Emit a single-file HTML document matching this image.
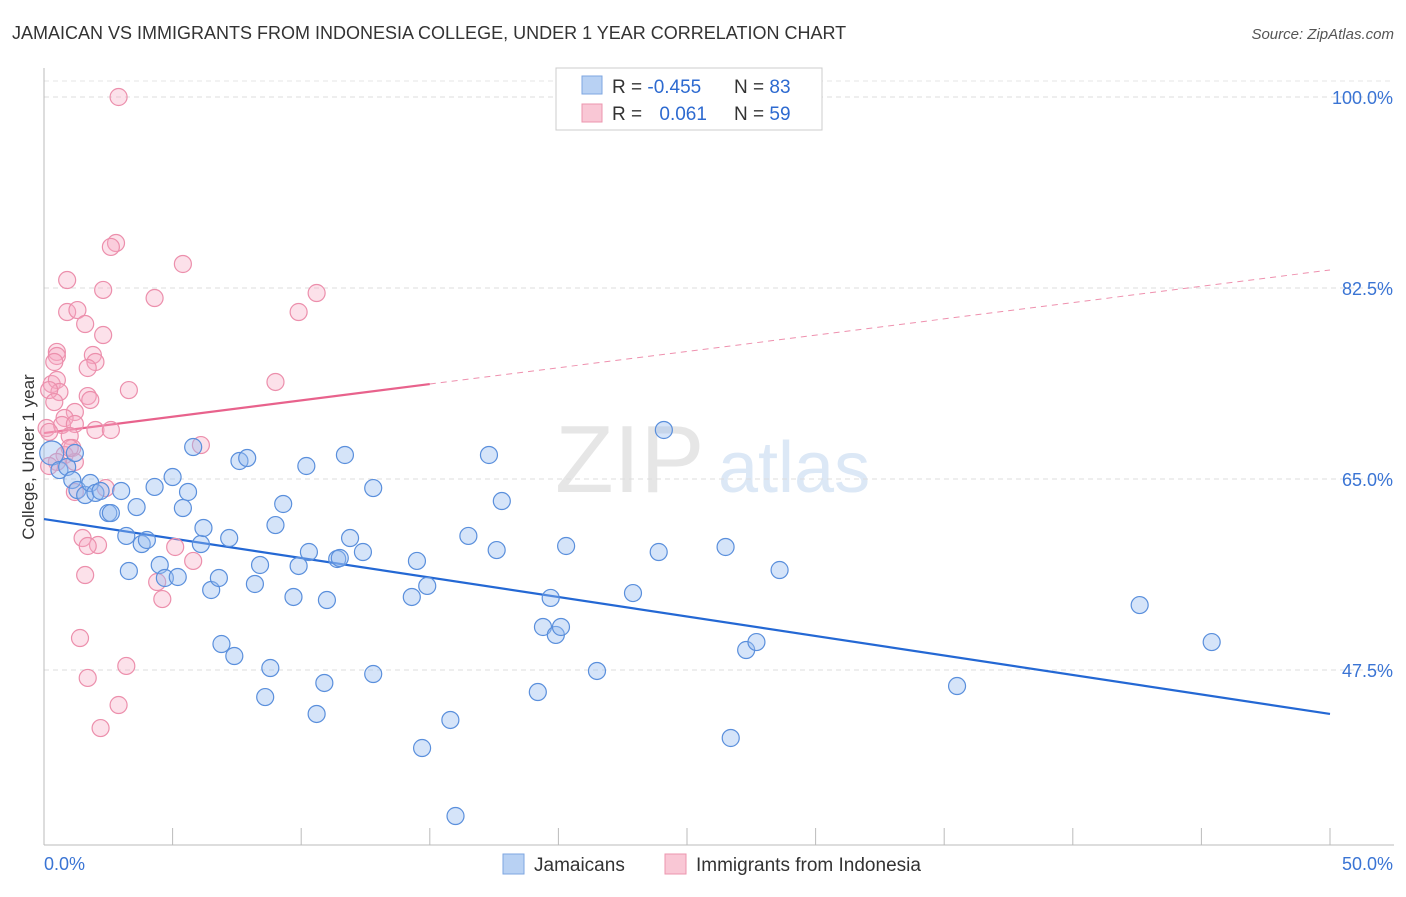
<!DOCTYPE html>
<html><head><meta charset="utf-8"><style>
body{margin:0;background:#fff;font-family:"Liberation Sans",sans-serif;}
svg text{font-family:"Liberation Sans",sans-serif;}
</style></head><body>
<svg id="chart" width="1406" height="892">
<text x="12" y="39" font-size="18" fill="#333">JAMAICAN VS IMMIGRANTS FROM INDONESIA COLLEGE, UNDER 1 YEAR CORRELATION CHART</text>
<text x="1394" y="39" font-size="15" fill="#555" text-anchor="end" font-style="italic">Source: ZipAtlas.com</text>
<text x="34" y="457" font-size="17" fill="#333" text-anchor="middle" transform="rotate(-90 34 457)">College, Under 1 year</text>
<text x="555" y="492" font-size="96" fill="#e6e6e6" font-family="Liberation Serif">ZIP</text>
<text x="718" y="492" font-size="72" fill="#dce8f6">atlas</text>
<g id="grid"></g><g id="axes"></g><g id="lines"></g><g id="pts"></g>
<g>
<rect x="556" y="68" width="266" height="62" fill="#fff" stroke="#ccc"/>
<rect x="582" y="76" width="20" height="18" fill="#b8d1f3" stroke="#7ea6e0"/>
<rect x="582" y="104" width="20" height="18" fill="#f9c7d5" stroke="#ec95ae"/>
<text x="612" y="93" font-size="19" fill="#333">R = <tspan fill="#2d6ad0">-0.455</tspan></text>
<text x="734" y="93" font-size="19" fill="#333">N = <tspan fill="#2d6ad0">83</tspan></text>
<text x="612" y="120" font-size="19" fill="#333">R = <tspan fill="#2d6ad0" dx="12">0.061</tspan></text>
<text x="734" y="120" font-size="19" fill="#333">N = <tspan fill="#2d6ad0">59</tspan></text>
</g>
<g>
<rect x="503" y="854" width="21" height="20" fill="#b8d1f3" stroke="#7ea6e0"/>
<text x="534" y="871" font-size="19" fill="#333">Jamaicans</text>
<rect x="665" y="854" width="21" height="20" fill="#f9c7d5" stroke="#ec95ae"/>
<text x="696" y="871" font-size="19" fill="#333">Immigrants from Indonesia</text>
</g>
</svg>
<script>
const yTicks=[100,82.5,65,47.5];
const yTickLabels=["100.0%","82.5%","65.0%","47.5%"];
const xTickLabels=["0.0%","50.0%"];
const blueX=[0.3,0.6,0.9,1.1,1.3,1.6,1.8,2.0,2.2,2.5,2.6,3.0,3.2,3.3,3.6,3.8,4.0,4.3,4.5,4.7,5.0,5.2,5.4,5.6,5.8,6.1,6.2,6.5,6.8,6.9,7.2,7.4,7.6,7.9,8.2,8.4,8.6,8.8,9.0,9.3,9.7,9.9,10.2,10.3,10.6,10.9,11.0,11.4,11.5,11.7,11.9,12.4,12.8,12.8,14.3,14.5,14.7,14.9,15.8,16.0,16.5,17.3,17.6,17.8,19.2,19.4,19.7,19.9,20.1,20.3,21.5,22.9,23.9,24.1,26.5,26.7,27.3,27.7,28.6,35.5,42.6,45.4,1.2];
const blueY=[67.38,65.82,66.10,64.91,63.99,63.53,64.63,63.72,63.90,61.88,61.88,63.90,59.78,56.57,62.43,59.04,59.41,64.27,57.12,55.93,65.18,56.02,62.34,63.81,67.93,59.04,60.51,54.83,55.93,49.88,59.59,48.78,66.65,66.92,55.38,57.12,45.02,47.68,60.78,62.71,54.19,57.03,66.19,58.31,43.47,46.31,53.91,57.67,57.76,67.20,59.59,58.31,47.13,64.17,54.19,57.49,40.35,55.20,42.92,34.12,59.78,67.20,58.49,62.98,45.48,51.44,54.10,50.71,51.44,58.86,47.41,54.55,58.31,69.49,58.77,41.27,49.33,50.06,56.66,46.03,53.45,50.06,67.38];
const pinkX=[2.9,2.8,2.6,5.4,0.9,2.3,4.3,10.6,0.9,1.3,9.9,1.6,2.3,0.5,0.5,1.9,2.0,0.4,1.7,9.0,3.3,0.3,0.5,0.6,0.2,1.7,1.8,0.4,1.2,0.8,0.7,1.2,0.1,0.2,2.0,2.6,1.0,6.1,1.1,0.8,0.5,0.2,1.2,2.4,1.2,1.5,2.1,1.7,5.1,5.8,1.6,4.4,4.6,1.4,3.2,1.7,2.9,2.2,1.0];
const pinkY=[100.0,86.62,86.26,84.70,83.23,82.32,81.58,82.04,80.30,80.48,80.30,79.20,78.19,76.64,76.27,76.36,75.72,75.72,75.17,73.89,73.15,73.70,74.07,72.97,73.15,72.60,72.24,72.05,71.14,70.59,69.95,70.04,69.67,69.31,69.49,69.49,68.94,68.11,67.84,67.20,66.56,66.19,66.56,64.17,63.81,59.59,58.95,58.86,58.77,57.49,56.20,55.56,54.00,50.43,47.87,46.77,44.29,42.18,67.84];
const X=v=>44+v*25.72, Y=v=>97+(100-v)*10.914;
const NS="http://www.w3.org/2000/svg";
function mk(tag,attrs,parent){const e=document.createElementNS(NS,tag);for(const k in attrs)e.setAttribute(k,attrs[k]);document.getElementById(parent).appendChild(e);return e;}
yTicks.forEach((t,i)=>{
 const g=mk('line',{x1:44,x2:1394,y1:Y(t),y2:Y(t),stroke:'#ddd','stroke-dasharray':'5 4'},'grid');
 
 
 const tx=mk('text',{x:1393,y:Y(t)+7,'font-size':18,fill:'#3a74d4','text-anchor':'end'},'axes');
 tx.textContent=yTickLabels[i];
 
 
});
const gl=mk('line',{x1:44,x2:1394,y1:81,y2:81,stroke:'#e4e4e4','stroke-dasharray':'5 4'},'grid');


const ya=mk('line',{x1:44,x2:44,y1:68,y2:845,stroke:'#bbb'},'axes');


const xa=mk('line',{x1:44,x2:1394,y1:845,y2:845,stroke:'#bbb'},'axes');


for(let i=0;i<=10;i++){const t=mk('line',{x1:X(i*5),x2:X(i*5),y1:828,y2:845,stroke:'#bbb'},'axes');
 
 }
[[0,44,'start'],[50,1393,'end']].forEach((a,i)=>{const t=mk('text',{x:a[1],y:870,'font-size':18,fill:'#3a74d4','text-anchor':a[2]},'axes');t.textContent=xTickLabels[i];
 
 });
const bl=mk('line',{x1:X(0),y1:Y(61.33),x2:X(50),y2:Y(43.47),stroke:'#2468d4','stroke-width':2.2},'lines');


const pl=mk('line',{x1:X(0),y1:Y(69.21),x2:X(15),y2:Y(73.70),stroke:'#e8628c','stroke-width':2.2},'lines');


const pd=mk('line',{x1:X(15),y1:Y(73.70),x2:X(50),y2:Y(84.15),stroke:'#e8628c','stroke-width':1,'stroke-dasharray':'6 5',opacity:0.7},'lines');


pinkX.forEach((v,i)=>{const c=mk('circle',{cx:X(v),cy:Y(pinkY[i]),r:8.5,fill:'rgba(246,170,195,0.35)',stroke:'#ec8fac','stroke-width':1.2},'pts');
 
 });
blueX.forEach((v,i)=>{const c=mk('circle',{cx:X(v),cy:Y(blueY[i]),r:(i==0?12:8.5),fill:'rgba(150,188,240,0.4)',stroke:'#5a8fdc','stroke-width':1.2},'pts');
 
 });
</script>
</body></html>
